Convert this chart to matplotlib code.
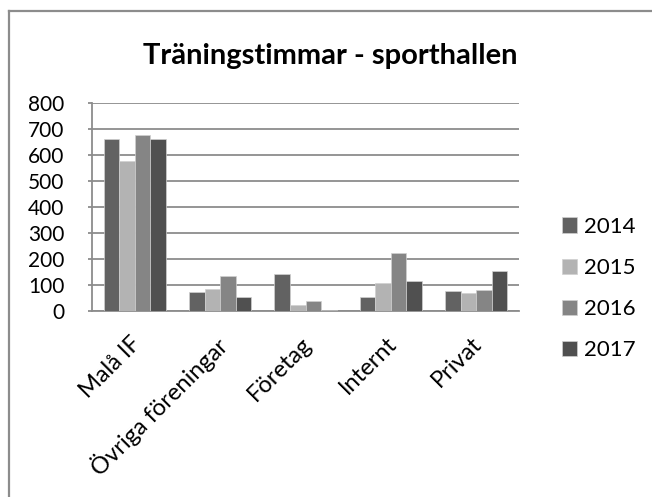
#!/usr/bin/env python3

# Träningstimmar - sporthallen, grouped bars per category and year

import numpy as np
from matplotlib import pyplot as plt
from matplotlib.lines import Line2D
from matplotlib.transforms import ScaledTranslation
import matplotlib

params = {
    'font.family': ['Lato', 'DejaVu Sans'],
    'font.size': 15,
    'figure.dpi': 100,
}
matplotlib.rcParams.update(params)

categories = ["Malå IF", "Övriga föreningar", "Företag", "Internt", "Privat"]
years = ["2014", "2015", "2016", "2017"]
v2014 = [659, 71, 140, 53, 77]
v2015 = [576, 82, 22, 107, 67]
v2016 = [676, 135, 36, 221, 81]
v2017 = [659, 54, 4, 113, 153]
colours = ['#626262', '#b3b3b3', '#858585', '#505050']
yticks = [0, 100, 200, 300, 400, 500, 600, 700, 800]

series = [v2014, v2015, v2016, v2017]

fig = plt.figure(figsize=(6.52, 4.97))
ax = fig.add_axes([92/652, 1 - 310.7/497, (519 - 92)/652, (310.7 - 102.7)/497])

x = np.arange(len(categories))
w = 1/5.5
for i, (vals, c, yr) in enumerate(zip(series, colours, years)):
    ax.bar(x + (i - 1.5)*w, vals, w, color=c, edgecolor='#d0d0d0',
           linewidth=0.5, label=yr, zorder=3)

ax.set_xlim(-0.5, len(categories) - 0.5)
ax.set_ylim(0, 800)
ax.set_yticks(yticks)
ax.yaxis.grid(True, color='#8c8c8c', linewidth=1.3, zorder=0)
ax.set_axisbelow(True)

for s in ['top', 'right']:
    ax.spines[s].set_visible(False)
for s in ['left', 'bottom']:
    ax.spines[s].set_color('#8c8c8c')
    ax.spines[s].set_linewidth(1.3)

ax.tick_params(axis='y', length=3, width=1.3, color='#8c8c8c', pad=17)
ax.tick_params(axis='x', length=0, pad=16, labelsize=17)
ax.set_xticks(x)
ax.set_xticklabels(categories, rotation=45, ha='right', rotation_mode='anchor')
shift = ScaledTranslation(-5/100, 0, fig.dpi_scale_trans)
for lab in ax.get_xticklabels():
    lab.set_transform(lab.get_transform() + shift)

# title
fig.text(330/652, 1 - 64/497, "Träningstimmar - sporthallen",
         ha='center', va='baseline', fontsize=21, fontweight='bold')

# legend
leg = fig.legend(loc='center left', bbox_to_anchor=(562/652, 1 - 288.5/497),
                 frameon=False, fontsize=16, handlelength=0.68, handleheight=0.68,
                 handletextpad=0.32, labelspacing=0.95, borderpad=0,
                 borderaxespad=0)

# outer frame (cut at right and bottom)
fig.add_artist(Line2D([8.5/652, 8.5/652], [0, 1 - 11/497],
                      transform=fig.transFigure, color='#8c8c8c', linewidth=1.6))
fig.add_artist(Line2D([8.5/652, 1], [1 - 11/497, 1 - 11/497],
                      transform=fig.transFigure, color='#8c8c8c', linewidth=1.6))

plt.savefig("out.png")
